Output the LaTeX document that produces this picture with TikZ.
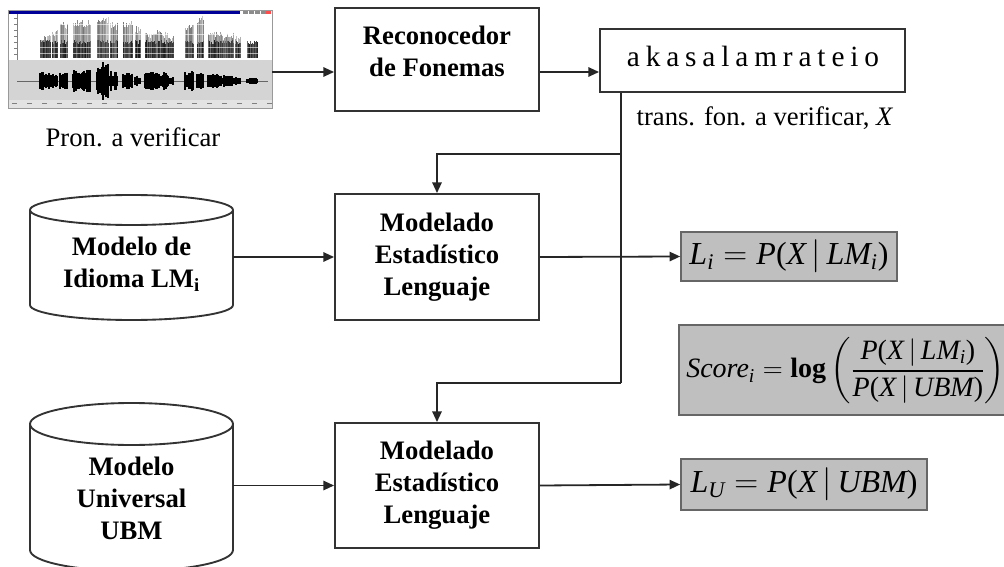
\documentclass[tikz,border=0pt]{standalone}
\usepackage{amsmath}
\usepackage{fontspec}
\setmainfont{Liberation Serif}
\usetikzlibrary{arrows.meta}
\newcommand{\lsp}{\hspace{0.2em}}

\begin{document}
\begin{tikzpicture}[x=0.75pt,y=-0.75pt,
  arr/.style={-{Triangle[length=8pt,width=7pt]}, line width=1.35pt, draw=black!85},
  wire/.style={line width=1.35pt, draw=black!85},
  procbox/.style={draw=black!80, line width=1.4pt, minimum width=153pt, inner sep=0pt,
    align=center, font=\fontsize{20}{24}\selectfont\bfseries},
  boldtxt/.style={align=center, inner sep=0pt, font=\fontsize{20}{24}\selectfont\bfseries},
  cyltxt/.style={boldtxt, minimum width=152.25pt},
  cylline/.style={draw=black!80, line width=1.4pt, fill=white},
  txt/.style={inner sep=0pt, font=\fontsize{20}{24}\selectfont},
  fmbox/.style={draw=black!60, line width=1.2pt, fill=black!25, inner sep=0pt,
    font=\fontsize{24}{28}\selectfont},
  fmtxt/.style={inner sep=0pt, font=\fontsize{21}{25}\selectfont}]

\useasboundingbox (0,0) rectangle (1004,567);
\clip (0,0) rectangle (1004,567);
\pgfmathsetseed{11}

% ---------- speech recording window ----------
\node[minimum width=198pt, minimum height=73.5pt, inner sep=0pt] (spec) at (140,59) {};
\fill[white] (8,10) rectangle (272,108);
\fill[blue!60!black] (8,10) rectangle (240,14.5);
\foreach \bx in {243,249,255,261} \fill[black!45] (\bx,10.5) rectangle +(4.5,3.5);
\fill[red!70] (266,10.5) rectangle (270.5,14);
\draw[black!50, line width=0.3pt] (17,14) -- (17,60);
\foreach \yy in {18,24,...,56} \draw[black!50, line width=0.3pt] (14,\yy) -- (17,\yy);
\fill[black!17] (8,60) rectangle (272,100);
\fill[black!11] (8,100) rectangle (272,108);
\foreach \xx in {12,27,...,267} \fill[black!50] (\xx,103) rectangle +(5,1.5);
\draw[black!60, line width=0.4pt] (17,81) -- (268,81);
\foreach \a/\b/\h/\t in {40/50/10/35, 52/57/8/30, 60/67/9/22, 73/90/12/20,
    97/108/19/15, 110/117/10/22, 123/132/9/20, 135/140/6/26, 145/167/9/30,
    168/173/5/36, 185/193/10/24, 197/203/8/15, 208/217/7/30, 218/233/7/32,
    235/240/4/36, 247/257/3/46}
{
  % spectrogram energy: ragged vertical strokes, darker towards the low band
  \foreach \xx in {\a,...,\b} {
    \pgfmathsetmacro{\top}{\t+8*rnd}
    \pgfmathsetmacro{\shadeA}{20+35*rnd}
    \draw[black!\shadeA, line width=0.7pt] (\xx,\top) -- (\xx,44);
    \pgfmathsetmacro{\shadeB}{55+35*rnd}
    \draw[black!\shadeB, line width=0.7pt] (\xx,{40+4*rnd}) -- (\xx,58);
  }
  % waveform envelope
  \foreach \xx in {\a,...,\b} {
    \pgfmathsetmacro{\amp}{\h*(0.45+0.55*rnd)}
    \draw[black, line width=0.8pt] (\xx,{81-\amp}) -- (\xx,{81+\amp});
  }
}
\foreach \yy in {24,34,47,53} \draw[white, opacity=0.6, line width=0.3pt] (18,\yy) -- (270,\yy);
\draw[black!40, line width=0.4pt] (8,10) rectangle (272,108);
\node[txt] (pron) at (133,137) {Pron. a verificar};

% ---------- phoneme recogniser and transcription ----------
\node[procbox, minimum height=77.25pt] (rec) at (437,59.5) {};
\node[boldtxt] (rectxt) at (437,51) {Reconocedor\\de Fonemas};
\node[draw=black!80, line width=1.4pt, minimum width=228.75pt, minimum height=47.25pt,
  inner sep=0pt] (fon) at (752.5,60.5) {};
\node[txt, font=\fontsize{22}{24}\selectfont] (fontxt) at (753,56)
  {a\lsp k\lsp a\lsp s\lsp a\lsp l\lsp a\lsp m\lsp r\lsp a\lsp t\lsp e\lsp i\lsp o};
\node[txt] (trans) at (765,118) {trans. fon. a verificar, \textit{X}};

% ---------- language models ----------
\draw[cylline] (30,210) -- (30,305)
  arc[start angle=180, end angle=360, x radius=76.125pt, y radius=11.25pt]
  -- (233,210)
  arc[start angle=0, end angle=180, x radius=76.125pt, y radius=11.25pt] -- cycle;
\draw[cylline, fill=none] (30,210)
  arc[start angle=180, end angle=360, x radius=76.125pt, y radius=11.25pt];
\node[cyltxt] (cyl1) at (131.5,264) {Modelo de\\Idioma LM\textsubscript{i}};

\draw[cylline] (30,424) -- (30,550)
  arc[start angle=180, end angle=360, x radius=76.125pt, y radius=15.75pt]
  -- (233,424)
  arc[start angle=0, end angle=180, x radius=76.125pt, y radius=15.75pt] -- cycle;
\draw[cylline, fill=none] (30,424)
  arc[start angle=180, end angle=360, x radius=76.125pt, y radius=15.75pt];
\node[cyltxt] (cyl2) at (131.5,498) {Modelo\\Universal\\UBM};

\node[procbox, minimum height=94.5pt] (m1) at (437,257) {Modelado\\Estadístico\\Lenguaje};
\node[procbox, minimum height=93.75pt] (m2) at (437,485.5) {Modelado\\Estadístico\\Lenguaje};

% ---------- likelihoods and score ----------
\node[fmbox, minimum width=162pt, minimum height=36.75pt] (L1) at (789,256.5)
  {$\textit{L}_{\textit{i}} = \textit{P}\textup{(}\textit{X}\,|\,\textit{LM}_{\textit{i}}\textup{)}$};
\node[fmbox, minimum width=184.5pt, minimum height=38.25pt] (LU) at (804,484.5)
  {$\textit{L}_{\textit{U}} = \textit{P}\textup{(}\textit{X}\,|\,\textit{UBM}\textup{)}$};
\node[fmbox, minimum width=252pt, minimum height=67.5pt] (score) at (847,370) {};
\node[fmtxt, anchor=west] (scoretxt) at (686,371)
  {$\textit{Score}_{\textit{i}} = \textbf{log}\left(\dfrac{\textit{P}\textup{(}\textit{X}\,|\,\textit{LM}_{\textit{i}}\textup{)}}
         {\textit{P}\textup{(}\textit{X}\,|\,\textit{UBM}\textup{)}}\right)$};

% ---------- connectors ----------
\coordinate (ya) at (0,72);
\coordinate (j1) at (621,154);
\coordinate (j2) at (621,383);
\draw[arr] (spec.east |- ya) -- (rec.west |- ya);
\draw[arr] (rec.east |- ya) -- (fon.west |- ya);
\draw[wire] (fon.south -| j1) -- (j2);
\draw[arr] (j1) -| (m1.north);
\draw[arr] (j2) -| (m2.north);
\draw[arr] (cyl1.east |- m1.west) -- (m1.west);
\draw[arr] (cyl2.east |- m2.west) -- (m2.west);
\draw[arr] (m1.east) -- (L1.west);
\draw[arr] (m2.east) -- (LU.west);
\end{tikzpicture}
\end{document}
